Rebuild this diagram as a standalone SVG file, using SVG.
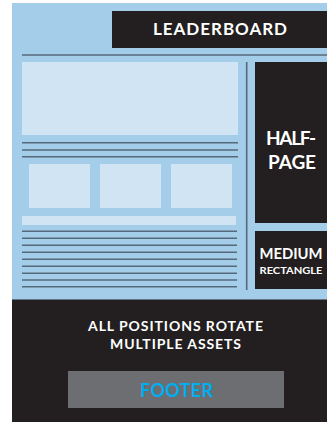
<svg xmlns="http://www.w3.org/2000/svg" width="327" height="422" viewBox="0 0 327 422">
<style>
.bg{fill:#a3cde9}
.light{fill:#d0e4f3}
.dark{fill:#231f20}
.ln{stroke:#56697a;stroke-width:1.6;fill:none}
.t{font-family:"Lato","Liberation Sans",sans-serif;font-weight:bold;fill:#ffffff;text-anchor:middle}
</style>
<rect x="0" y="0" width="327" height="422" fill="#ffffff"/>
<rect class="bg" x="12" y="3" width="315" height="297"/>
<g id="leaderboard">
<rect class="dark" x="112" y="11" width="215" height="37"/>
<text class="t" x="220" y="35" font-size="17" textLength="134" lengthAdjust="spacing">LEADERBOARD</text>
</g>
<g id="content">
<rect class="light" x="22" y="62" width="216" height="73"/>
<rect class="light" x="29" y="164" width="61" height="44"/>
<rect class="light" x="100" y="164" width="61" height="44"/>
<rect class="light" x="171" y="164" width="61" height="44"/>
<rect class="light" x="22" y="216" width="214" height="9"/>
</g>
<g id="connectors">
<line class="ln" x1="22" y1="55" x2="327" y2="55" stroke-width="2"/>
<line class="ln" x1="246.7" y1="62" x2="246.7" y2="290"/>
<line class="ln" x1="22" y1="142.7" x2="238" y2="142.7"/>
<line class="ln" x1="22" y1="150" x2="238" y2="150"/>
<line class="ln" x1="22" y1="156.7" x2="238" y2="156.7"/>
<line class="ln" x1="22" y1="231.3" x2="237" y2="231.3"/>
<line class="ln" x1="22" y1="238.3" x2="237" y2="238.3"/>
<line class="ln" x1="22" y1="245.3" x2="237" y2="245.3"/>
<line class="ln" x1="22" y1="252.3" x2="237" y2="252.3"/>
<line class="ln" x1="22" y1="259.3" x2="237" y2="259.3"/>
<line class="ln" x1="22" y1="266.3" x2="237" y2="266.3"/>
<line class="ln" x1="22" y1="273.3" x2="237" y2="273.3"/>
<line class="ln" x1="22" y1="280" x2="237" y2="280"/>
<line class="ln" x1="22" y1="286.7" x2="237" y2="286.7"/>
</g>
<g id="half-page">
<rect class="dark" x="255" y="62" width="72" height="161"/>
<text class="t" x="291" y="145" font-size="19" textLength="50" lengthAdjust="spacing">HALF-</text>
<text class="t" x="292" y="169" font-size="19" textLength="48" lengthAdjust="spacing">PAGE</text>
</g>
<g id="medium-rectangle">
<rect class="dark" x="255" y="231" width="72" height="58"/>
<text class="t" x="291" y="259.3" font-size="15.5" textLength="63" lengthAdjust="spacingAndGlyphs">MEDIUM</text>
<text class="t" x="291" y="274.3" font-size="10" textLength="63" lengthAdjust="spacingAndGlyphs">RECTANGLE</text>
</g>
<g id="footer-area">
<rect class="dark" x="12" y="299.5" width="315" height="122.5"/>
<text class="t" x="175.5" y="330.7" font-size="14" textLength="175" lengthAdjust="spacing">ALL POSITIONS ROTATE</text>
<text class="t" x="175.5" y="349" font-size="14" textLength="131" lengthAdjust="spacing">MULTIPLE ASSETS</text>
</g>
<g id="footer">
<rect x="68" y="371" width="216" height="37" fill="#6d6e71"/>
<text class="t" x="176.5" y="397.3" font-size="18" textLength="73" lengthAdjust="spacing" style="fill:#00aeef">FOOTER</text>
</g>
</svg>
